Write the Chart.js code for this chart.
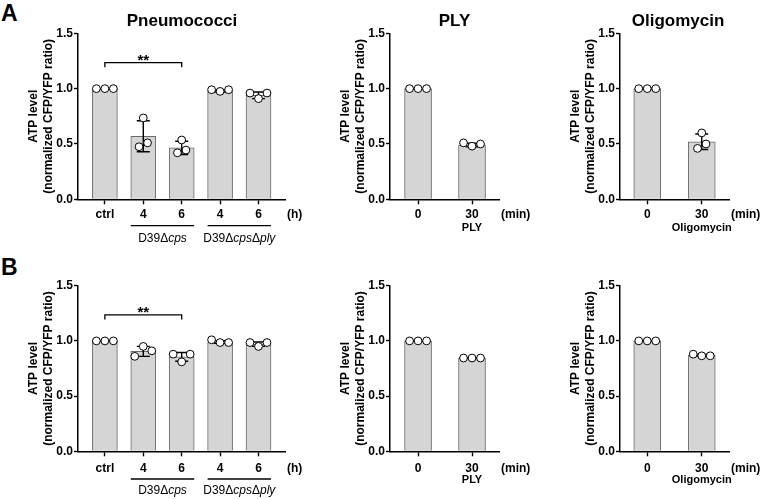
<!DOCTYPE html>
<html><head><meta charset="utf-8">
<script src="https://cdn.jsdelivr.net/npm/chart.js@4.4.0/dist/chart.umd.min.js"></script>
<style>
html,body{margin:0;padding:0;background:#fff;}
#wrap{position:relative;width:760px;height:499px;overflow:hidden;background:#fff;font-family:"Liberation Sans",Arial,sans-serif;}
canvas{position:absolute;}
.letter{position:absolute;font-weight:bold;font-size:23px;line-height:23px;color:#000;}
</style></head><body>
<div id="wrap">
  <div class="letter" style="left:1px;top:2px">A</div>
  <div class="letter" style="left:1px;top:256px">B</div>
</div>
<script>
// ---------------- DATA ----------------
const yTicks = [0, 0.5, 1.0, 1.5];
const yTitle = ['ATP level', '(normalized CFP/YFP ratio)'];
const panelTitles = ['Pneumococci', 'PLY', 'Oligomycin'];

const pneumoLabels = ['ctrl', '4', '6', '4', '6'];
const pneumoUnit = '(h)';
const pneumoGroups = [
  { from: 1, to: 2, parts: [['D39\u0394', false], ['cps', true]] },
  { from: 3, to: 4, parts: [['D39\u0394', false], ['cps', true], ['\u0394', false], ['ply', true]] }
];
const timeLabels = ['0', '30'];
const timeUnit = '(min)';
const plySub = 'PLY';
const oligoSub = 'Oligomycin';
const sigText = '**';
const sigPair = [0, 2];
const sigLevel = 1.235;

// Row A
const pneumoA_mean = [1.00, 0.57, 0.465, 0.98, 0.94];
const pneumoA_sd   = [0.00, 0.14, 0.06, 0.01, 0.03];
const pneumoA_pts  = [[1.00, 1.00, 1.00], [0.735, 0.475, 0.51], [0.536, 0.42, 0.445], [0.99, 0.975, 0.99], [0.96, 0.91, 0.96]];
const plyA_mean = [1.00, 0.49];
const plyA_sd   = [0.00, 0.016];
const plyA_pts  = [[1.00, 1.00, 1.00], [0.51, 0.48, 0.50]];
const oligoA_mean = [1.00, 0.52];
const oligoA_sd   = [0.004, 0.07];
const oligoA_pts  = [[1.00, 1.00, 1.00], [0.60, 0.46, 0.50]];

// Row B
const pneumoB_mean = [1.00, 0.905, 0.855, 0.99, 0.97];
const pneumoB_sd   = [0.00, 0.045, 0.04, 0.012, 0.02];
const pneumoB_pts  = [[1.00, 1.00, 1.00], [0.86, 0.95, 0.91], [0.88, 0.81, 0.88], [1.01, 0.985, 0.985], [0.985, 0.95, 0.985]];
const plyB_mean = [1.00, 0.845];
const plyB_sd   = [0.00, 0.003];
const plyB_pts  = [[1.00, 1.00, 1.00], [0.845, 0.845, 0.845]];
const oligoB_mean = [1.00, 0.87];
const oligoB_sd   = [0.00, 0.008];
const oligoB_pts  = [[1.00, 1.00, 1.00], [0.88, 0.865, 0.865]];

// ---------------- LAYOUT / STYLE ----------------
const FONT = '"Liberation Sans", Arial, sans-serif';
Chart.defaults.font.family = FONT;
Chart.defaults.color = '#000';

const rowA = { top: 0, height: 250, areaTop: 33.3, areaBottom: 199.3, tickPad: 3, groupLineY: 225.7, groupTextY: 238.3, subY: 228.3, titleY: 26 };
const rowB = { top: 250, height: 249, areaTop: 35.7, areaBottom: 201.3, tickPad: 5, groupLineY: 229, groupTextY: 240.7, subY: 230, titleY: null };
const colP = { left: 0, width: 305, areaRight: 285, xMin: -0.70, xMax: 4.69, bar: 25, titleX: 182 };
const colL = { left: 312, width: 220, areaRight: 187, xMin: -0.52, xMax: 1.50, bar: 27, titleX: 142.5 };
const colO = { left: 542, width: 218, areaRight: 187, xMin: -0.50, xMax: 1.50, bar: 27, titleX: 136 };
const AXIS_X = 78;

const panels = [
  { row: rowA, col: colP, title: panelTitles[0], labels: pneumoLabels, unit: pneumoUnit, groups: pneumoGroups, sig: true, mean: pneumoA_mean, sd: pneumoA_sd, pts: pneumoA_pts },
  { row: rowA, col: colL, title: panelTitles[1], labels: timeLabels, unit: timeUnit, sub: plySub, mean: plyA_mean, sd: plyA_sd, pts: plyA_pts },
  { row: rowA, col: colO, title: panelTitles[2], labels: timeLabels, unit: timeUnit, sub: oligoSub, mean: oligoA_mean, sd: oligoA_sd, pts: oligoA_pts },
  { row: rowB, col: colP, labels: pneumoLabels, unit: pneumoUnit, groups: pneumoGroups, sig: true, mean: pneumoB_mean, sd: pneumoB_sd, pts: pneumoB_pts },
  { row: rowB, col: colL, labels: timeLabels, unit: timeUnit, sub: plySub, mean: plyB_mean, sd: plyB_sd, pts: plyB_pts },
  { row: rowB, col: colO, labels: timeLabels, unit: timeUnit, sub: oligoSub, mean: oligoB_mean, sd: oligoB_sd, pts: oligoB_pts }
];

// spread overlapping points horizontally (like a column scatter)
function spread(pts, yPx, xPx) {
  const out = [];
  pts.forEach((vals, i) => {
    const idx = vals.map((v, k) => k).sort((a, b) => vals[a] - vals[b]);
    const clusters = []; let cur = [idx[0]];
    for (let k = 1; k < idx.length; k++) {
      if ((vals[idx[k]] - vals[idx[k - 1]]) * yPx < 9) cur.push(idx[k]);
      else { clusters.push(cur); cur = [idx[k]]; }
    }
    clusters.push(cur);
    clusters.forEach(c => {
      c.sort((a, b) => a - b);
      c.forEach((k, j) => out.push({ x: i + (j - (c.length - 1) / 2) * 8.5 / xPx, y: vals[k] }));
    });
  });
  return out;
}

const annot = {
  id: 'annot',
  afterDatasetDraw(chart, args) {
    if (args.index !== 0) return;
    const p = chart.$p; const ctx = chart.ctx;
    const xs = chart.scales.x, ys = chart.scales.y;
    ctx.save();
    ctx.strokeStyle = '#000'; ctx.lineWidth = 1.4;
    p.mean.forEach((m, i) => {
      const x = xs.getPixelForValue(i);
      const yT = ys.getPixelForValue(m + p.sd[i]);
      const yB = ys.getPixelForValue(m - p.sd[i]);
      ctx.beginPath();
      ctx.moveTo(x, yT); ctx.lineTo(x, yB);
      ctx.moveTo(x - 6.5, yT); ctx.lineTo(x + 6.5, yT);
      ctx.moveTo(x - 6.5, yB); ctx.lineTo(x + 6.5, yB);
      ctx.stroke();
    });
    ctx.restore();
  },
  afterDraw(chart) {
    const p = chart.$p; const ctx = chart.ctx; const r = p.row;
    const xs = chart.scales.x, ys = chart.scales.y, area = chart.chartArea;
    ctx.save();
    ctx.fillStyle = '#000'; ctx.strokeStyle = '#000';
    const tickMid = area.bottom + 5 + r.tickPad + 7.2;
    if (p.title && r.titleY !== null) {
      ctx.font = 'bold 17px ' + FONT; ctx.textAlign = 'center'; ctx.textBaseline = 'alphabetic';
      ctx.fillText(p.title, p.col.titleX, r.titleY);
    }
    ctx.font = 'bold 12px ' + FONT; ctx.textAlign = 'left'; ctx.textBaseline = 'middle';
    ctx.fillText(p.unit, area.right + 2, tickMid);
    if (p.sub) {
      ctx.font = 'bold 11px ' + FONT; ctx.textAlign = 'center'; ctx.textBaseline = 'middle';
      ctx.fillText(p.sub, xs.getPixelForValue(1), r.subY);
    }
    if (p.groups) {
      ctx.lineWidth = 1.3;
      p.groups.forEach(g => {
        const x1 = xs.getPixelForValue(g.from) - p.col.bar / 2;
        const x2 = xs.getPixelForValue(g.to) + p.col.bar / 2;
        ctx.beginPath(); ctx.moveTo(x1, r.groupLineY); ctx.lineTo(x2, r.groupLineY); ctx.stroke();
        const fonts = g.parts.map(pt => (pt[1] ? 'italic ' : '') + '12px ' + FONT);
        let total = 0;
        g.parts.forEach((pt, k) => { ctx.font = fonts[k]; total += ctx.measureText(pt[0]).width; });
        let x = (x1 + x2) / 2 - total / 2;
        ctx.textAlign = 'left'; ctx.textBaseline = 'middle';
        g.parts.forEach((pt, k) => { ctx.font = fonts[k]; ctx.fillText(pt[0], x, r.groupTextY); x += ctx.measureText(pt[0]).width; });
      });
    }
    if (p.sig) {
      const xa = xs.getPixelForValue(sigPair[0]), xb = xs.getPixelForValue(sigPair[1]);
      const y = ys.getPixelForValue(sigLevel);
      ctx.lineWidth = 1.3;
      ctx.beginPath();
      ctx.moveTo(xa, y + 4.5); ctx.lineTo(xa, y); ctx.lineTo(xb, y); ctx.lineTo(xb, y + 4.5);
      ctx.stroke();
      ctx.font = 'bold 15px ' + FONT; ctx.textAlign = 'center'; ctx.textBaseline = 'alphabetic';
      ctx.fillText(sigText, (xa + xb) / 2, y + 2);
    }
    ctx.restore();
  }
};

const wrap = document.getElementById('wrap');
panels.forEach((p) => {
  const r = p.row, c = p.col;
  const cv = document.createElement('canvas');
  cv.width = c.width; cv.height = r.height;
  cv.style.left = c.left + 'px'; cv.style.top = r.top + 'px';
  cv.style.width = c.width + 'px'; cv.style.height = r.height + 'px';
  wrap.appendChild(cv);
  const yPx = (r.areaBottom - r.areaTop) / 1.5;
  const xPx = (c.areaRight - AXIS_X) / (c.xMax - c.xMin);
  const labels = p.labels;
  new Chart(cv, {
    type: 'bar',
    data: {
      datasets: [
        { type: 'bar', order: 2, data: p.mean.map((m, i) => ({ x: i, y: m })),
          backgroundColor: '#d5d5d5', borderColor: '#6a6a6a', borderWidth: 1, borderSkipped: 'bottom',
          barThickness: c.bar },
        { type: 'scatter', order: 1, data: spread(p.pts, yPx, xPx),
          pointRadius: 3.9, pointBackgroundColor: '#fff', pointBorderColor: '#000', pointBorderWidth: 1, showLine: false }
      ]
    },
    options: {
      responsive: false, animation: false, events: [], devicePixelRatio: 1,
      layout: { padding: { left: 0, top: r.areaTop, right: c.width - c.areaRight, bottom: 0 } },
      plugins: { legend: { display: false }, tooltip: { enabled: false }, title: { display: false } },
      scales: {
        x: {
          type: 'linear', min: c.xMin, max: c.xMax, offset: false,
          afterBuildTicks: s => { s.ticks = labels.map((_, i) => ({ value: i })); },
          afterFit: s => { s.height = r.height - r.areaBottom; },
          grid: { offset: false, drawOnChartArea: false, drawTicks: true, tickLength: 5, tickColor: '#000', tickWidth: 1.4 },
          border: { display: true, color: '#000', width: 1.5 },
          ticks: { autoSkip: false, maxRotation: 0, padding: r.tickPad, color: '#000',
            font: { size: 12, weight: 'bold' }, callback: v => labels[v] }
        },
        y: {
          min: 0, max: 1.5,
          afterBuildTicks: s => { s.ticks = yTicks.map(v => ({ value: v })); },
          afterFit: s => { s.width = AXIS_X; },
          grid: { drawOnChartArea: false, drawTicks: true, tickLength: 4, tickColor: '#000', tickWidth: 1.4 },
          border: { display: true, color: '#000', width: 1.5 },
          ticks: { padding: 1, color: '#000', font: { size: 12, weight: 'bold' }, callback: v => v.toFixed(1) },
          title: { display: true, text: yTitle, color: '#000', font: { size: 12, weight: 'bold', lineHeight: 1.2 },
            padding: { top: 26.8, bottom: 0 } }
        }
      }
    },
    plugins: [{ id: 'attach', beforeInit(ch) { ch.$p = p; } }, annot]
  });
});
</script>
</body></html>
